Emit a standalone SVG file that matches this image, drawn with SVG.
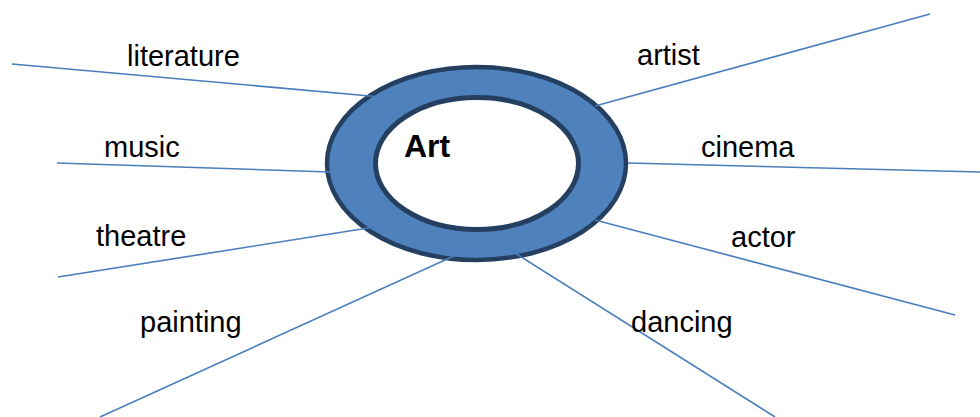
<svg xmlns="http://www.w3.org/2000/svg" width="980" height="417" viewBox="0 0 980 417">
  <style>
    .lbl { font-family: "Liberation Sans", Arial, sans-serif; font-size: 29px; fill: #000; }
    .title { font-family: "Liberation Sans", Arial, sans-serif; font-size: 32px; font-weight: bold; fill: #000; }
    .conn { stroke: #4A7EBB; stroke-width: 1.6; fill: none; }
    .ring { fill: #4F81BD; stroke: #243F60; stroke-width: 4.5; }
    .hole { fill: #FFFFFF; stroke: #243F60; stroke-width: 5; }
  </style>
  <rect width="980" height="417" fill="#FFFFFF"/>
  <g id="art">
    <ellipse class="ring" cx="476.5" cy="163.5" rx="149.5" ry="96.5"/>
    <ellipse class="hole" cx="477" cy="163.5" rx="101.5" ry="66"/>
    <text class="title" x="404" y="157">Art</text>
  </g>
  <g id="connectors">
    <line class="conn" x1="12" y1="64" x2="381" y2="97"/>
    <line class="conn" x1="57" y1="163" x2="330" y2="172"/>
    <line class="conn" x1="58" y1="277" x2="381" y2="226"/>
    <line class="conn" x1="100" y1="417" x2="467" y2="250"/>
    <line class="conn" x1="507" y1="248" x2="775" y2="417"/>
    <line class="conn" x1="595" y1="220" x2="955" y2="315"/>
    <line class="conn" x1="628" y1="163" x2="980" y2="172"/>
    <line class="conn" x1="595" y1="106" x2="930" y2="14"/>
  </g>
  <g id="literature"><text class="lbl" x="127" y="66">literature</text></g>
  <g id="music"><text class="lbl" x="104" y="157">music</text></g>
  <g id="theatre"><text class="lbl" x="96" y="246">theatre</text></g>
  <g id="painting"><text class="lbl" x="140" y="332">painting</text></g>
  <g id="artist"><text class="lbl" x="637" y="65">artist</text></g>
  <g id="cinema"><text class="lbl" x="701" y="157">cinema</text></g>
  <g id="actor"><text class="lbl" x="731" y="247">actor</text></g>
  <g id="dancing"><text class="lbl" x="631" y="332">dancing</text></g>
</svg>
